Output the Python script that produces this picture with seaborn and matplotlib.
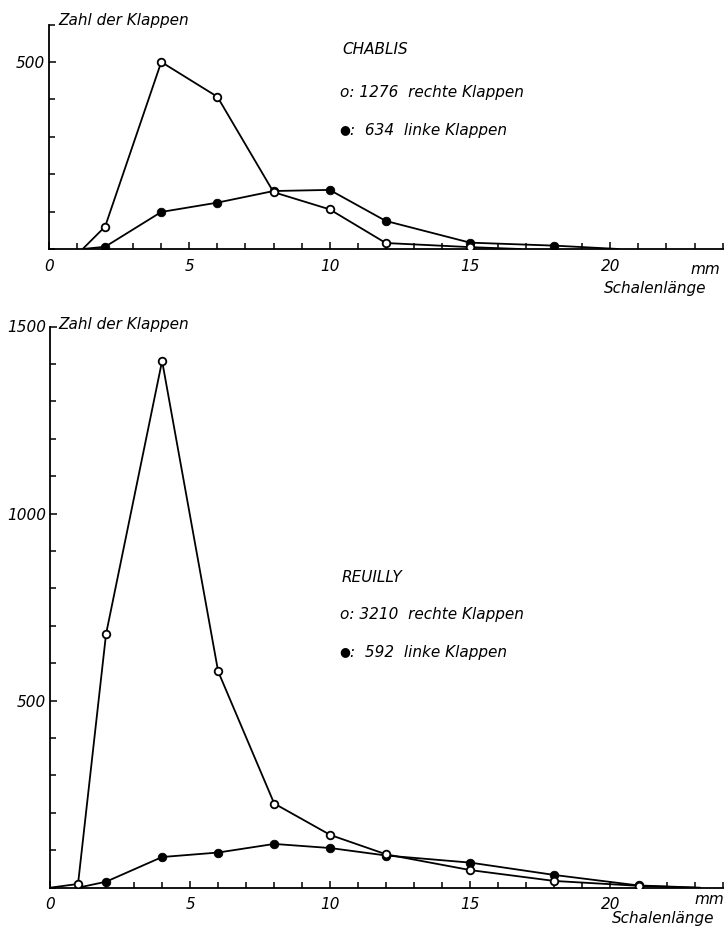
import numpy as np
import pandas as pd
import matplotlib
matplotlib.use('Agg')
import matplotlib.pyplot as plt
import seaborn as sns
from matplotlib.ticker import MultipleLocator

sns.set_style('ticks')
plt.rcParams['font.family'] = ['DejaVu Sans']
plt.rcParams['font.style'] = 'italic'
plt.rcParams['text.color'] = 'black'
plt.rcParams['xtick.color'] = 'black'
plt.rcParams['ytick.color'] = 'black'
plt.rcParams['axes.edgecolor'] = 'black'

# ── Daten: Chablis ─────────────────────────────────────────
chab_x       = [2, 4, 6, 8, 10, 12, 15]
chab_rechts  = [60, 500, 407, 152, 106, 16, 5]
chab_r_start = (1.2, 0)
chab_r_end   = (16.8, 0)

chab_lx      = [2, 4, 6, 8, 10, 12, 15, 18]
chab_links   = [6, 99, 124, 155, 158, 75, 17, 9]
chab_l_start = (1.2, 0)
chab_l_end   = (20.3, 0)

# ── Daten: Reuilly ─────────────────────────────────────────
reu_x        = [1, 2, 4, 6, 8, 10, 12, 15, 18, 21]
reu_rechts   = [10, 678, 1408, 578, 225, 141, 89, 47, 18, 5]
reu_r_start  = (0, 0)
reu_r_end    = (23.0, 0)

reu_lx       = [2, 4, 6, 8, 10, 12, 15, 18, 21]
reu_links    = [16, 82, 94, 117, 106, 86, 67, 34, 6]
reu_l_start  = (1.0, 0)
reu_l_end    = (23.2, 0)

W, H = 724, 933
fig = plt.figure(figsize=(W / 100, H / 100), dpi=100)

def px_axes(left, top, right, bottom):
    return fig.add_axes([left / W, 1 - bottom / H, (right - left) / W, (bottom - top) / H])

ax1 = px_axes(49, 24.6, 724, 249)
ax2 = px_axes(50, 326.5, 724, 887.7)


def serie(ax, xs, ys, start, end, filled):
    lx = [start[0]] + list(xs) + [end[0]]
    ly = [start[1]] + list(ys) + [end[1]]
    sns.lineplot(x=lx, y=ly, ax=ax, color='black', linewidth=1.3,
                 sort=False, estimator=None, zorder=2)
    d = pd.DataFrame({'x': xs, 'y': ys})
    if filled:
        sns.scatterplot(data=d, x='x', y='y', ax=ax, s=38, color='black',
                        edgecolor='black', linewidth=0.6, zorder=3)
    else:
        sns.scatterplot(data=d, x='x', y='y', ax=ax, s=30, color='white',
                        edgecolor='black', linewidth=1.3, zorder=4)


serie(ax1, chab_lx, chab_links, chab_l_start, chab_l_end, True)
serie(ax1, chab_x, chab_rechts, chab_r_start, chab_r_end, False)
serie(ax2, reu_lx, reu_links, reu_l_start, reu_l_end, True)
serie(ax2, reu_x, reu_rechts, reu_r_start, reu_r_end, False)

for ax, ymax, ylabels in [(ax1, 600, [500]), (ax2, 1500, [500, 1000, 1500])]:
    ax.set_xlim(0, 24.05)
    ax.set_ylim(0, ymax)
    ax.set_xlabel('')
    ax.set_ylabel('')
    sns.despine(ax=ax)
    for s in ['left', 'bottom']:
        ax.spines[s].set_linewidth(1.3)
    ax.set_xticks([0, 5, 10, 15, 20])
    ax.xaxis.set_minor_locator(MultipleLocator(1))
    ax.set_yticks(ylabels)
    ax.yaxis.set_minor_locator(MultipleLocator(100))
    ax.tick_params(which='both', direction='in', width=1.1, labelsize=11)
    ax.tick_params(which='major', length=5)
    ax.tick_params(which='minor', length=4)
    ax.tick_params(axis='x', pad=7)
    ax.tick_params(axis='y', pad=3)
    ax.patch.set_alpha(0)


def legende(y_titel, titel, n_r, n_l, y_r, y_l):
    fig.text(342 / W, 1 - y_titel / H, titel, fontsize=11, va='center')
    fig.text(340 / W, 1 - y_r / H, f'o: {n_r}  rechte Klappen', fontsize=11, va='center')
    fig.text(339 / W, 1 - y_l / H, '\u25cf', fontsize=9, va='center', style='normal')
    fig.text(350 / W, 1 - y_l / H, f':  {n_l}  linke Klappen', fontsize=11, va='center')


# Beschriftungen oben
fig.text(58 / W, 1 - 20 / H, 'Zahl der Klappen', fontsize=11, va='center')
legende(50, 'CHABLIS', 1276, 634, 93, 130)
fig.text(690 / W, 1 - 270 / H, 'mm', fontsize=11, va='center')
fig.text(604 / W, 1 - 289 / H, 'Schalenlänge', fontsize=11, va='center')

# Beschriftungen unten
fig.text(58 / W, 1 - 325 / H, 'Zahl der Klappen', fontsize=11, va='center')
legende(577, 'REUILLY', 3210, 592, 615, 652)
fig.text(694 / W, 1 - 900 / H, 'mm', fontsize=11, va='center')
fig.text(612 / W, 1 - 918 / H, 'Schalenlänge', fontsize=11, va='center')

fig.savefig('out.png', dpi=100)
